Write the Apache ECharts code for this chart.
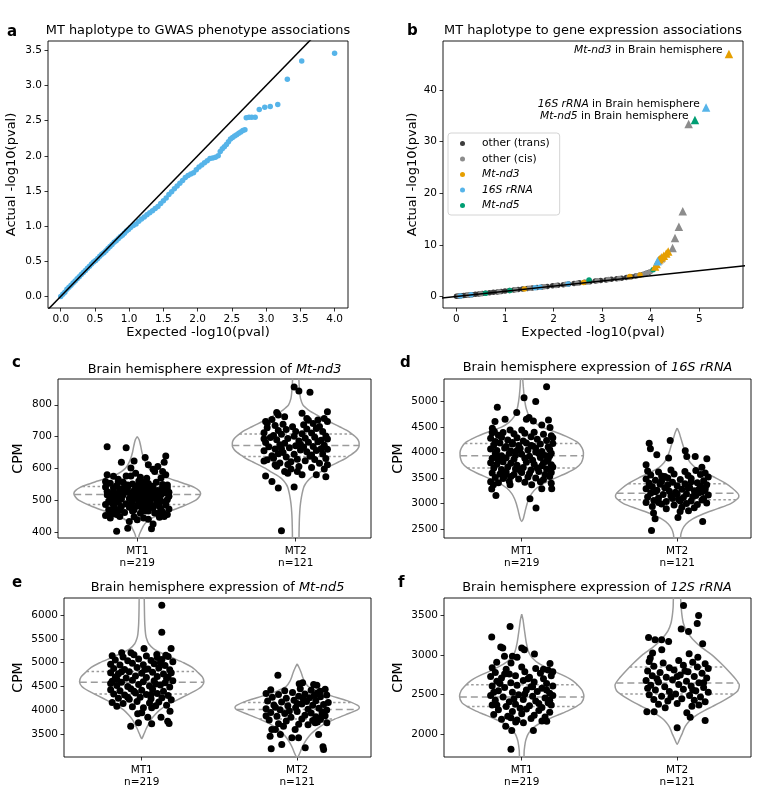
<!DOCTYPE html>
<html><head><meta charset="utf-8">
<script src="https://cdn.jsdelivr.net/npm/echarts@6/dist/echarts.min.js"></script>
<style>html,body{margin:0;padding:0;background:#fff}#chart{width:760px;height:790px}</style>
</head><body><div id="chart"></div>
<script>
// ---------------- DATA ----------------
// Panel a: QQ points [expected, actual]
const aPoints = [[0,0],[0.03,0.03],[0.06,0.06],[0.09,0.1],[0.12,0.13],[0.15,0.16],[0.18,0.19],[0.21,0.22],[0.24,0.25],[0.27,0.28],[0.3,0.31],[0.33,0.34],[0.36,0.37],[0.39,0.4],[0.42,0.43],[0.45,0.46],[0.48,0.49],[0.51,0.51],[0.54,0.54],[0.57,0.57],[0.6,0.6],[0.63,0.62],[0.66,0.65],[0.69,0.68],[0.72,0.71],[0.75,0.74],[0.78,0.77],[0.81,0.79],[0.84,0.82],[0.87,0.85],[0.9,0.87],[0.93,0.9],[0.96,0.93],[0.99,0.95],[1.02,0.98],[1.06,1.01],[1.1,1.03],[1.14,1.07],[1.18,1.1],[1.22,1.13],[1.26,1.16],[1.3,1.19],[1.34,1.22],[1.38,1.25],[1.42,1.28],[1.46,1.32],[1.5,1.36],[1.54,1.4],[1.58,1.45],[1.62,1.49],[1.66,1.53],[1.7,1.57],[1.74,1.61],[1.78,1.65],[1.82,1.69],[1.86,1.72],[1.9,1.74],[1.94,1.76],[1.98,1.8],[2.02,1.84],[2.06,1.87],[2.1,1.9],[2.14,1.93],[2.18,1.96],[2.22,1.97],[2.26,1.98],[2.3,2.0],[2.33,2.06],[2.36,2.1],[2.39,2.13],[2.42,2.16],[2.45,2.2],[2.48,2.24],[2.51,2.26],[2.54,2.28],[2.57,2.3],[2.6,2.32],[2.63,2.34],[2.66,2.36],[2.69,2.37],[2.71,2.54],[2.75,2.55],[2.79,2.55],[2.84,2.55],[2.9,2.66],[2.98,2.69],[3.06,2.7],[3.17,2.73],[3.31,3.09],[3.52,3.35],[4.0,3.46]];
const refSpan = [-1, 7];

// Panel b: QQ points per group [expected, actual]
const bTrans = [[0,0.01],[0.03,0.03],[0.06,0.07],[0.1,0.11],[0.15,0.15],[0.2,0.21],[0.26,0.27],[0.32,0.34],[0.39,0.4],[0.46,0.48],[0.53,0.55],[0.6,0.63],[0.68,0.7],[0.76,0.79],[0.84,0.87],[0.92,0.96],[1.0,1.04],[1.09,1.13],[1.18,1.22],[1.27,1.32],[1.36,1.41],[1.46,1.51],[1.56,1.62],[1.66,1.72],[1.76,1.82],[1.87,1.93],[1.98,2.05],[2.09,2.16],[2.2,2.28],[2.31,2.39],[2.42,2.51],[2.53,2.62],[2.64,2.73],[2.75,2.85],[2.86,2.96],[2.97,3.07],[3.08,3.19],[3.19,3.31],[3.3,3.42],[3.4,3.54],[3.5,3.66],[3.6,3.79],[3.69,3.93],[3.77,4.08],[3.84,4.24],[3.9,4.42],[3.96,4.62]];
const bCis = [[0.05,0.06],[0.24,0.25],[0.5,0.52],[0.88,0.91],[1.22,1.27],[1.5,1.56],[1.81,1.88],[2.05,2.13],[2.25,2.33],[2.48,2.57],[2.7,2.8],[2.9,3.01],[3.13,3.25],[3.35,3.48],[3.55,3.73],[3.72,3.99],[3.86,4.3],[3.92,4.55],[3.99,4.8]];
const bCisTri = [[4.16,7.0],[4.21,7.4],[4.45,9.4],[4.5,11.3],[4.58,13.5],[4.66,16.5],[4.78,33.4]];
const bNd3 = [[1.4,1.45],[2.62,2.71],[3.57,3.85],[3.78,4.15]];
const bNd3Tri = [[4.09,5.8],[4.12,6.3],[4.18,7.2],[4.23,7.6],[4.27,7.9],[4.32,8.3],[4.36,8.7],[5.61,47.0]];
const b16S = [[0.08,0.09],[0.3,0.32],[1.62,1.68],[1.72,1.79],[2.3,2.38]];
const b16STri = [[4.14,6.8],[5.14,36.6]];
const bNd5 = [[0.6,0.62],[1.1,1.15],[2.73,3.2],[4.05,5.17]];
const bNd5Tri = [[4.91,34.2]];

// Tick labels
const aXTicks = [0,0.5,1,1.5,2,2.5,3,3.5,4];
const aYTicks = [0,0.5,1,1.5,2,2.5,3,3.5];
const bXTicks = [0,1,2,3,4,5];
const bYTicks = [0,10,20,30,40];
const cYTicks = [400,500,600,700,800];
const dYTicks = [2500,3000,3500,4000,4500,5000];
const eYTicks = [3500,4000,4500,5000,5500,6000];
const fYTicks = [2000,2500,3000,3500];
const groups = ['MT1\nn=219','MT2\nn=121'];

// Violin density profiles [CPM, half width]
const vioC1 = [[700,0],[690,0.012],[670,0.022],[650,0.03],[630,0.042],[610,0.06],[600,0.075],[590,0.1],[580,0.135],[570,0.19],[560,0.25],[550,0.31],[540,0.36],[530,0.39],[520,0.4],[510,0.39],[500,0.37],[490,0.33],[480,0.285],[470,0.23],[460,0.17],[450,0.12],[440,0.08],[430,0.055],[420,0.04],[410,0.03],[400,0.02],[390,0.012],[372,0.004]];
const vioC2 = [[900,0.02],[880,0.02],[860,0.022],[840,0.025],[820,0.03],[800,0.045],[790,0.065],[780,0.09],[770,0.125],[760,0.16],[750,0.2],[740,0.24],[730,0.28],[720,0.32],[710,0.35],[700,0.375],[690,0.393],[680,0.4],[670,0.4],[660,0.39],[650,0.37],[640,0.34],[630,0.31],[620,0.27],[610,0.23],[600,0.19],[590,0.16],[580,0.125],[570,0.095],[560,0.075],[550,0.06],[540,0.05],[520,0.04],[500,0.033],[480,0.028],[460,0.025],[440,0.023],[420,0.022],[400,0.021],[370,0.02]];
const vioD1 = [[5500,0.005],[5300,0.01],[5100,0.016],[4900,0.026],[4800,0.036],[4700,0.05],[4600,0.08],[4500,0.13],[4400,0.22],[4300,0.3],[4200,0.36],[4100,0.387],[4000,0.397],[3900,0.395],[3800,0.383],[3700,0.35],[3600,0.29],[3500,0.215],[3400,0.145],[3300,0.095],[3200,0.065],[3100,0.047],[3000,0.035],[2900,0.026],[2800,0.018],[2700,0.01],[2650,0]];
const vioD2 = [[4480,0],[4400,0.012],[4300,0.022],[4200,0.032],[4100,0.042],[4000,0.052],[3900,0.065],[3800,0.085],[3700,0.12],[3600,0.18],[3500,0.25],[3400,0.31],[3300,0.355],[3200,0.39],[3150,0.397],[3100,0.39],[3000,0.345],[2900,0.26],[2800,0.17],[2700,0.1],[2600,0.057],[2500,0.035],[2400,0.024],[2300,0.018]];
const vioE1 = [[6400,0.016],[6200,0.017],[6000,0.018],[5800,0.02],[5600,0.025],[5500,0.032],[5400,0.045],[5300,0.075],[5200,0.13],[5100,0.2],[5000,0.27],[4900,0.325],[4800,0.36],[4700,0.39],[4600,0.4],[4500,0.385],[4400,0.34],[4300,0.28],[4200,0.22],[4100,0.16],[4000,0.115],[3900,0.085],[3800,0.06],[3700,0.043],[3600,0.028],[3500,0.015],[3400,0]];
const vioE2 = [[4977,0],[4900,0.012],[4800,0.025],[4700,0.035],[4600,0.048],[4500,0.07],[4400,0.13],[4300,0.22],[4200,0.32],[4100,0.39],[4050,0.4],[4000,0.385],[3900,0.31],[3800,0.235],[3700,0.17],[3600,0.125],[3500,0.09],[3400,0.065],[3300,0.045],[3200,0.03],[3100,0.018],[3010,0.005],[2990,0]];
const vioF1 = [[3516,0],[3450,0.008],[3350,0.015],[3250,0.022],[3150,0.03],[3050,0.042],[3000,0.055],[2950,0.075],[2900,0.105],[2850,0.15],[2800,0.2],[2750,0.26],[2700,0.31],[2650,0.345],[2600,0.37],[2550,0.39],[2480,0.4],[2400,0.385],[2350,0.35],[2300,0.3],[2250,0.24],[2200,0.18],[2150,0.125],[2100,0.085],[2050,0.058],[2000,0.04],[1950,0.03],[1900,0.023],[1800,0.016],[1690,0.012]];
const vioF2 = [[3750,0.021],[3600,0.026],[3500,0.031],[3400,0.04],[3300,0.06],[3200,0.1],[3100,0.155],[3000,0.225],[2900,0.28],[2800,0.33],[2700,0.375],[2620,0.4],[2550,0.39],[2500,0.36],[2450,0.32],[2400,0.275],[2350,0.225],[2300,0.175],[2250,0.13],[2200,0.095],[2150,0.07],[2100,0.052],[2050,0.04],[2000,0.03],[1950,0.018],[1875,0]];

// Quartiles [q1, median, q3]
const quartC = [[486,518,543],[637,672,708]];
const quartD = [[3700,3937,4180],[3074,3200,3390]];
const quartE = [[4340,4590,4815],[3810,4013,4160]];
const quartF = [[2352,2470,2625],[2510,2648,2850]];

// Strip points [jitter, CPM]
const ptsC1 = [[-0.19,668],[-0.07,665],[-0.1,619],[-0.02,623],[0.05,634],[0.18,639],[0.17,619],[0.07,611],[0.11,590],[0.16,590],[0.18,580],[-0.19,580],[-0.07,576],[-0.04,576],[0.06,569],[0.1,597],[0.13,606],[-0.04,601],[-0.01,585],[-0.15,575],[0.05,558],[0.15,570],[-0.12,566],[0.02,572],[-0.17,553],[-0.2,541],[-0.15,529],[-0.19,517],[-0.16,506],[-0.18,497],[-0.2,486],[-0.14,474],[-0.17,463],[-0.13,545],[-0.11,536],[-0.14,520],[-0.1,511],[-0.12,493],[-0.15,484],[-0.11,469],[-0.09,557],[-0.06,548],[-0.08,532],[-0.05,524],[-0.1,503],[-0.07,489],[-0.05,478],[-0.08,461],[-0.03,551],[-0.01,539],[-0.04,516],[-0.02,507],[-0.03,495],[0.0,482],[-0.02,470],[0.01,560],[0.03,544],[0.02,528],[0.05,513],[0.01,500],[0.04,489],[0.03,473],[0.02,459],[0.07,552],[0.06,537],[0.09,521],[0.08,509],[0.06,494],[0.09,481],[0.07,466],[0.12,556],[0.1,542],[0.13,530],[0.11,515],[0.14,501],[0.12,488],[0.1,476],[0.13,458],[0.16,549],[0.19,538],[0.17,523],[0.2,512],[0.15,497],[0.18,485],[0.2,472],[0.16,463],[0.19,548],[-0.19,527],[-0.13,512],[-0.06,541],[0.0,525],[0.05,531],[0.11,505],[0.17,531],[-0.16,492],[-0.09,516],[-0.01,512],[0.08,497],[0.15,517],[-0.18,470],[-0.12,558],[-0.04,485],[0.04,552],[0.14,480],[0.19,502],[-0.07,526],[0.02,519],[0.1,534],[-0.14,501],[-0.03,466],[0.06,478],[0.18,493],[-0.2,559],[-0.1,480],[0.0,545],[0.12,520],[-0.05,505],[0.08,526],[0.16,540],[-0.17,519],[0.03,507],[-0.11,527],[0.13,492],[0.2,525],[-0.08,549],[0.01,491],[0.09,544],[-0.15,539],[0.05,466],[-0.02,530],[0.15,471],[-0.13,455],[0.11,460],[-0.13,402],[-0.06,412],[0.09,410],[0.1,425],[-0.17,444],[-0.05,433],[0.04,444],[0.14,446],[0.17,449],[-0.11,449],[-0.2,452],[0.19,455],[-0.02,448],[0.07,440],[-0.15,458],[0.15,453],[0.0,438]];
const ptsC2 = [[-0.01,856],[0.02,843],[0.09,839],[-0.09,404],[-0.19,576],[-0.15,559],[-0.11,538],[-0.01,541],[-0.2,623],[0.2,778],[0.18,757],[0.2,747],[-0.12,776],[-0.11,768],[-0.19,747],[-0.18,742],[-0.07,762],[0.04,773],[0.07,757],[0.13,580],[0.19,574],[0.2,611],[0.01,590],[0.04,580],[-0.07,590],[-0.05,585],[-0.13,611],[-0.18,728],[-0.2,712],[-0.16,697],[-0.19,681],[-0.17,668],[-0.2,655],[-0.15,640],[-0.18,627],[-0.13,735],[-0.11,719],[-0.14,703],[-0.12,690],[-0.1,674],[-0.13,661],[-0.11,646],[-0.14,632],[-0.1,617],[-0.08,739],[-0.06,722],[-0.09,707],[-0.05,694],[-0.07,679],[-0.04,665],[-0.08,650],[-0.06,636],[-0.03,621],[-0.02,731],[0.0,716],[-0.01,701],[0.02,686],[0.0,671],[0.03,658],[-0.01,644],[0.01,629],[0.02,606],[0.05,737],[0.07,724],[0.04,709],[0.06,695],[0.08,682],[0.05,667],[0.07,652],[0.09,638],[0.06,624],[0.11,741],[0.13,725],[0.1,711],[0.12,698],[0.14,684],[0.11,669],[0.13,656],[0.1,642],[0.12,628],[0.15,732],[0.17,716],[0.19,702],[0.16,688],[0.18,673],[0.2,660],[0.17,645],[0.19,631],[0.15,616],[-0.15,754],[0.08,751],[-0.03,598],[0.1,603],[0.18,598],[0.2,692],[-0.2,693],[0.03,676],[-0.09,662],[0.16,662],[-0.05,612],[0.14,752],[-0.12,607]];
const ptsD1 = [[0.16,5295],[0.015,5079],[0.09,5001],[-0.157,4891],[-0.032,4785],[0.047,4687],[0.03,4656],[-0.107,4656],[-0.172,4609],[0.075,4623],[0.172,4642],[0.129,4544],[0.182,4491],[-0.189,4480],[-0.176,4413],[-0.075,4446],[0.0,4446],[-0.166,3159],[-0.193,3284],[0.092,2912],[0.053,3094],[0.193,3290],[0.129,3290],[-0.182,3368],[-0.075,3368],[0.064,3368],[-0.19,4390],[-0.15,4340],[-0.12,4395],[-0.05,4370],[0.02,4380],[0.08,4400],[0.14,4360],[0.19,4330],[-0.2,4280],[-0.17,4220],[-0.13,4300],[-0.09,4250],[-0.03,4290],[0.01,4230],[0.06,4310],[0.1,4260],[0.16,4240],[0.2,4290],[-0.18,4150],[-0.14,4190],[-0.1,4120],[-0.06,4170],[-0.02,4140],[0.03,4190],[0.07,4130],[0.12,4170],[0.17,4110],[0.2,4180],[-0.2,4070],[-0.16,4040],[-0.11,4090],[-0.07,4030],[-0.01,4080],[0.04,4050],[0.09,4090],[0.13,4020],[0.18,4060],[-0.17,3980],[-0.13,3940],[-0.08,3990],[-0.04,3950],[0.0,3970],[0.05,3930],[0.11,3985],[0.15,3945],[0.19,3990],[-0.19,3890],[-0.15,3860],[-0.1,3900],[-0.05,3870],[0.02,3890],[0.07,3850],[0.12,3905],[0.17,3870],[-0.2,3800],[-0.16,3770],[-0.12,3820],[-0.07,3790],[-0.03,3750],[0.03,3810],[0.08,3770],[0.14,3800],[0.19,3760],[-0.18,3700],[-0.13,3670],[-0.09,3720],[-0.04,3680],[0.01,3710],[0.06,3660],[0.1,3700],[0.16,3680],[0.2,3720],[-0.19,3600],[-0.14,3580],[-0.1,3620],[-0.05,3570],[0.0,3610],[0.05,3590],[0.11,3630],[0.15,3570],[0.19,3610],[-0.17,3510],[-0.12,3490],[-0.07,3530],[-0.02,3480],[0.04,3520],[0.09,3500],[0.14,3470],[0.18,3530],[-0.2,3430],[-0.15,3410],[-0.08,3440],[0.02,3420],[0.12,3430],[0.19,3400],[-0.06,4200],[0.09,4010],[-0.16,3930],[0.16,3830],[-0.01,3650],[0.13,3740],[-0.11,3540],[0.06,4140],[-0.03,4040],[0.18,3940]];
const ptsD2 = [[-0.165,2473],[0.164,2649],[0.005,2727],[-0.142,2702],[0.019,2845],[0.073,2859],[-0.152,2814],[-0.18,4186],[-0.172,4074],[-0.045,4237],[0.052,4035],[0.062,3923],[0.116,3923],[0.191,3878],[-0.131,3956],[-0.2,3760],[-0.055,3892],[0.159,3715],[-0.19,3640],[-0.12,3620],[-0.04,3660],[0.05,3630],[0.12,3650],[0.18,3600],[-0.17,3560],[-0.1,3540],[-0.02,3580],[0.07,3550],[0.15,3570],[0.2,3520],[-0.2,3480],[-0.14,3460],[-0.06,3500],[0.02,3470],[0.09,3490],[0.17,3450],[-0.18,3400],[-0.11,3380],[-0.03,3420],[0.05,3390],[0.13,3410],[0.19,3370],[-0.16,3330],[-0.08,3310],[0.0,3350],[0.08,3320],[0.15,3340],[-0.2,3290],[-0.13,3260],[-0.05,3240],[0.03,3280],[0.11,3250],[0.18,3270],[-0.17,3200],[-0.09,3180],[-0.01,3220],[0.06,3190],[0.14,3210],[0.2,3170],[-0.19,3130],[-0.12,3110],[-0.04,3150],[0.04,3120],[0.1,3140],[0.17,3100],[-0.15,3060],[-0.07,3040],[0.01,3080],[0.09,3050],[0.16,3070],[-0.2,3020],[-0.1,2990],[-0.02,2970],[0.06,3000],[0.13,2980],[0.19,3010],[-0.16,2940],[0.03,2930],[0.11,2920],[-0.07,2900],[-0.14,3230],[0.07,3300],[-0.06,3370],[0.12,3160],[-0.1,3440],[0.02,3050],[0.16,3230],[-0.18,3350],[0.09,3430],[-0.03,3100],[0.18,3310],[-0.12,3020],[0.0,3190],[0.14,3280],[-0.08,3530]];
const ptsE1 = [[0.129,6213],[0.129,5644],[0.189,5300],[0.015,5300],[0.097,5173],[0.155,5158],[-0.129,5209],[-0.069,5209],[-0.071,3660],[-0.021,3732],[0.064,3711],[0.176,3717],[0.167,3766],[0.124,3851],[0.182,3977],[-0.026,3922],[0.0,3943],[0.011,4049],[0.064,4049],[0.039,3851],[-0.19,5150],[-0.12,5120],[-0.05,5170],[0.03,5140],[0.1,5110],[0.17,5130],[-0.17,5060],[-0.09,5040],[-0.02,5080],[0.06,5050],[0.13,5070],[0.2,5020],[-0.2,4970],[-0.14,4950],[-0.06,4990],[0.01,4960],[0.08,4980],[0.15,4940],[-0.18,4880],[-0.11,4860],[-0.03,4900],[0.04,4870],[0.11,4890],[0.18,4850],[-0.2,4790],[-0.15,4770],[-0.08,4810],[0.0,4780],[0.07,4800],[0.14,4760],[0.19,4790],[-0.17,4700],[-0.1,4680],[-0.04,4720],[0.03,4690],[0.1,4710],[0.16,4670],[-0.19,4610],[-0.13,4590],[-0.06,4630],[0.01,4600],[0.08,4620],[0.15,4580],[0.2,4620],[-0.16,4520],[-0.09,4500],[-0.02,4540],[0.05,4510],[0.12,4530],[0.18,4490],[-0.2,4430],[-0.14,4410],[-0.07,4450],[0.0,4420],[0.07,4440],[0.14,4400],[-0.18,4340],[-0.11,4320],[-0.04,4360],[0.03,4330],[0.1,4350],[0.17,4310],[-0.15,4250],[-0.08,4230],[-0.01,4270],[0.06,4240],[0.13,4260],[0.19,4220],[-0.19,4160],[-0.12,4140],[-0.03,4180],[0.05,4150],[0.11,4170],[-0.16,4080],[-0.06,4070],[0.09,4090],[0.16,4100],[-0.13,4810],[0.09,4550],[-0.05,4400],[0.17,4700],[-0.2,4560],[0.02,4860],[-0.09,4270],[0.12,5000],[-0.16,4650],[0.06,4330]];
const ptsE2 = [[-0.124,4737],[0.013,4555],[0.035,4576],[0.106,4540],[0.127,4525],[0.148,4399],[-0.167,3183],[-0.099,3274],[0.052,3205],[0.166,3226],[0.17,3169],[-0.174,3449],[-0.108,3485],[-0.034,3416],[0.009,3416],[0.138,3485],[-0.163,3591],[-0.14,3591],[-0.088,3660],[-0.013,3591],[0.191,3732],[0.116,3732],[-0.17,4430],[-0.08,4410],[0.02,4450],[0.09,4420],[0.18,4440],[-0.2,4350],[-0.12,4330],[-0.03,4370],[0.05,4340],[0.13,4360],[0.19,4320],[-0.16,4270],[-0.07,4250],[0.01,4290],[0.08,4260],[0.15,4280],[-0.19,4190],[-0.1,4170],[-0.02,4210],[0.06,4180],[0.12,4200],[0.2,4160],[-0.15,4110],[-0.06,4090],[0.03,4130],[0.1,4100],[0.17,4120],[-0.2,4030],[-0.11,4010],[-0.01,4050],[0.07,4020],[0.14,4040],[0.19,4000],[-0.17,3950],[-0.08,3930],[0.0,3970],[0.09,3940],[0.16,3960],[-0.13,3870],[-0.04,3850],[0.05,3890],[0.12,3860],[0.18,3880],[-0.18,3790],[-0.07,3770],[0.03,3810],[0.1,3780],[0.15,3800],[-0.12,3710],[0.01,3700],[0.07,3690],[-0.14,4060],[0.04,4230],[0.16,3900],[-0.05,3980],[0.11,4310],[-0.2,3880],[0.0,4140],[0.13,3750]];
const ptsF1 = [[-0.075,3360],[-0.193,3227],[-0.122,3089],[-0.135,3100],[0.0,3089],[0.017,3068],[-0.111,2984],[-0.06,2984],[-0.03,2971],[0.082,3014],[-0.161,2908],[-0.069,2900],[0.182,2892],[-0.069,1812],[-0.064,2050],[-0.103,2104],[0.075,2050],[0.161,2167],[0.011,2147],[-0.039,2155],[-0.19,2840],[-0.1,2820],[0.0,2850],[0.09,2830],[0.17,2810],[-0.17,2780],[-0.08,2760],[0.02,2790],[0.12,2770],[0.2,2790],[-0.2,2730],[-0.13,2710],[-0.04,2740],[0.05,2720],[0.14,2700],[0.19,2740],[-0.16,2670],[-0.07,2650],[0.01,2680],[0.08,2660],[0.16,2640],[-0.19,2610],[-0.11,2590],[-0.03,2620],[0.06,2600],[0.13,2580],[0.2,2610],[-0.15,2550],[-0.06,2530],[0.03,2560],[0.1,2540],[0.18,2520],[-0.2,2490],[-0.12,2470],[-0.02,2500],[0.07,2480],[0.15,2460],[0.2,2490],[-0.17,2430],[-0.08,2410],[0.01,2440],[0.09,2420],[0.17,2400],[-0.19,2370],[-0.1,2350],[-0.04,2380],[0.05,2360],[0.13,2340],[0.19,2370],[-0.15,2310],[-0.06,2290],[0.03,2320],[0.11,2300],[0.18,2280],[-0.18,2250],[-0.09,2230],[0.0,2260],[0.08,2240],[0.15,2220],[-0.13,2190],[-0.03,2180],[0.06,2200],[0.13,2170],[-0.14,2640],[0.04,2700],[-0.05,2450],[0.16,2560],[-0.18,2530],[0.11,2390],[-0.01,2330],[0.07,2600],[-0.11,2760],[0.18,2430],[-0.07,2210],[0.14,2820],[-0.16,2370],[0.02,2510]];
const ptsF2 = [[0.041,3624],[0.138,3498],[0.129,3398],[0.026,3327],[0.073,3298],[0.164,3143],[-0.184,3222],[-0.142,3193],[-0.1,3193],[-0.055,3172],[-0.099,3068],[0.077,3017],[0.133,2971],[-0.158,3026],[-0.173,2963],[-0.195,2285],[-0.148,2285],[0.18,2176],[0.0,2084],[0.084,2217],[0.062,2272],[0.095,2355],[-0.077,2335],[-0.18,2920],[-0.09,2900],[0.01,2930],[0.1,2910],[0.18,2890],[-0.15,2860],[-0.05,2840],[0.04,2870],[0.13,2850],[0.2,2830],[-0.19,2800],[-0.11,2780],[-0.02,2810],[0.07,2790],[0.16,2770],[-0.16,2740],[-0.07,2720],[0.02,2750],[0.11,2730],[0.19,2710],[-0.2,2680],[-0.12,2660],[-0.03,2690],[0.06,2670],[0.14,2650],[-0.17,2620],[-0.08,2600],[0.01,2630],[0.09,2610],[0.17,2590],[-0.14,2560],[-0.05,2540],[0.04,2570],[0.12,2550],[0.2,2530],[-0.18,2500],[-0.1,2480],[-0.01,2510],[0.08,2490],[0.15,2470],[-0.15,2440],[-0.06,2420],[0.03,2450],[0.11,2430],[0.18,2410],[-0.12,2380],[0.0,2390],[0.14,2370],[-0.13,2700],[0.05,2800],[0.17,2650],[-0.04,2470],[0.1,2560],[-0.19,2580],[0.0,2730]];

// ---------------- CHART ----------------
const FONT = '"DejaVu Sans", Verdana, sans-serif';
const C = {trans:'#3d3d3d', cis:'#8c8c8c', nd3:'#E69F00', s16:'#56B4E9', nd5:'#009E73'};
const italicNames = ['Mt-nd3','16S rRNA','Mt-nd5'];

const grids = [
  {left:48, top:41, width:300, height:267},
  {left:443, top:41, width:300, height:267},
  {left:58, top:379, width:313, height:159},
  {left:444, top:379, width:307, height:159},
  {left:64, top:598, width:307, height:159},
  {left:444, top:598, width:307, height:159}
].map(g => Object.assign({show:true, borderColor:'#000', borderWidth:0.9, backgroundColor:'transparent', containLabel:false}, g));

function axis(gi, min, max, ticks, fmt, extra) {
  return Object.assign({
    type:'value', gridIndex:gi, min, max, scale:true,
    axisLine:{show:false, onZero:false}, splitLine:{show:false},
    axisTick:{show:true, inside:false, length:3.5, lineStyle:{color:'#000', width:0.8}, customValues:ticks},
    axisLabel:{show:true, customValues:ticks, formatter:fmt, color:'#000', fontSize:10.5, fontFamily:FONT, margin:6},
    nameTextStyle:{color:'#000', fontSize:13, fontFamily:FONT}
  }, extra || {});
}
const f1 = v => v.toFixed(1);
const fi = v => String(Math.round(v));
const fg = v => groups[Math.round(v)];

const xAxes = [
  axis(0, -0.186, 4.196, aXTicks, f1, {name:'Expected -log10(pval)', nameLocation:'middle', nameGap:12}),
  axis(1, -0.277, 5.9, bXTicks, fi, {name:'Expected -log10(pval)', nameLocation:'middle', nameGap:12}),
];
const yAxes = [
  axis(0, -0.165, 3.633, aYTicks, f1, {name:'Actual -log10(pval)', nameLocation:'middle', nameGap:30, nameRotate:90}),
  axis(1, -2.25, 49.5, bYTicks, fi, {name:'Actual -log10(pval)', nameLocation:'middle', nameGap:24, nameRotate:90}),
];
const vioRanges = [[381,881,cYTicks,33],[2324,5445,dYTicks,39],[3010,6367,eYTicks,39],[1715,3719,fYTicks,39]];
vioRanges.forEach((r, k) => {
  const gi = k + 2;
  const xa = axis(gi, -0.5, 1.475, [0,1], fg);
  xa.axisLabel.lineHeight = 12; xa.axisLabel.margin = 7;
  xAxes.push(xa);
  yAxes.push(axis(gi, r[0], r[1], r[2], fi, {name:'CPM', nameLocation:'middle', nameGap:r[3], nameRotate:90,
    nameTextStyle:{color:'#000', fontSize:14, fontFamily:FONT}}));
});

function hwAt(profile, v) {
  for (let i = 0; i < profile.length - 1; i++) {
    const [v1,w1] = profile[i], [v2,w2] = profile[i+1];
    if (v <= v1 && v >= v2) return w1 + (w2 - w1) * (v1 - v) / (v1 - v2);
  }
  return 0;
}
const series = [];
function addViolin(gi, center, profile, quart, pts) {
  const right = profile.map(([v,w]) => [center + w, v]);
  const left = profile.slice().reverse().map(([v,w]) => [center - w, v]);
  const poly = right.concat(left); poly.push(poly[0]);
  series.push({type:'line', xAxisIndex:gi, yAxisIndex:gi, data:poly, symbol:'none', smooth:0.25, clip:true, silent:true, z:1,
    lineStyle:{color:'#9b9b9b', width:1.5}});
  quart.forEach((q, qi) => {
    const w = hwAt(profile, q);
    series.push({type:'line', xAxisIndex:gi, yAxisIndex:gi, data:[[center - w, q],[center + w, q]], symbol:'none', silent:true, z:1,
      lineStyle:{color:'#9b9b9b', width:1.5, type: qi === 1 ? [7,4] : [2.5,2.5]}});
  });
  series.push({type:'scatter', xAxisIndex:gi, yAxisIndex:gi, data:pts.map(([j,v]) => [center + j, v]), symbol:'circle', symbolSize:7,
    itemStyle:{color:'#000', opacity:1}, silent:true, z:3});
}
addViolin(2, 0, vioC1, quartC[0], ptsC1); addViolin(2, 1, vioC2, quartC[1], ptsC2);
addViolin(3, 0, vioD1, quartD[0], ptsD1); addViolin(3, 1, vioD2, quartD[1], ptsD2);
addViolin(4, 0, vioE1, quartE[0], ptsE1); addViolin(4, 1, vioE2, quartE[1], ptsE2);
addViolin(5, 0, vioF1, quartF[0], ptsF1); addViolin(5, 1, vioF2, quartF[1], ptsF2);

// Panel a
series.push({type:'scatter', xAxisIndex:0, yAxisIndex:0, data:aPoints, symbolSize:5.5, itemStyle:{color:C.s16, opacity:1}, silent:true, z:2});
series.push({type:'line', xAxisIndex:0, yAxisIndex:0, data:refSpan.map(v => [v, v]), symbol:'none', clip:true, silent:true, z:3,
  lineStyle:{color:'#000', width:1.5}});

// Panel b
function labelTop(arr, gene) {
  let mi = 0; arr.forEach((p, i) => { if (p[1] > arr[mi][1]) mi = i; });
  return arr.map((p, i) => i === mi ? {value:p, label:{show:true, position:'left', distance:2, offset:[0,-3.5],
    formatter:'{i|' + gene + '} in Brain hemisphere', color:'#000', fontSize:10.7, fontFamily:FONT,
    rich:{i:{fontStyle:'italic', fontSize:10.7, fontFamily:FONT, color:'#000'}}}} : p);
}
const bS = (name, data, color, sym, size) => ({type:'scatter', name, xAxisIndex:1, yAxisIndex:1, data, symbol:sym, symbolSize:size,
  itemStyle:{color, opacity:1}, silent:true, z:2});
series.push(bS('other (trans)', bTrans, C.trans, 'circle', 5.5));
series.push(bS('other (cis)', bCis, C.cis, 'circle', 5.5));
series.push(bS('Mt-nd3', bNd3, C.nd3, 'circle', 5.5));
series.push(bS('16S rRNA', b16S, C.s16, 'circle', 5.5));
series.push(bS('Mt-nd5', bNd5, C.nd5, 'circle', 5.5));
series.push(bS('other (cis)', bCisTri, C.cis, 'triangle', 8.5));
series.push(bS('Mt-nd3', labelTop(bNd3Tri, 'Mt-nd3'), C.nd3, 'triangle', 8.5));
series.push(bS('16S rRNA', labelTop(b16STri, '16S rRNA'), C.s16, 'triangle', 8.5));
series.push(bS('Mt-nd5', labelTop(bNd5Tri, 'Mt-nd5'), C.nd5, 'triangle', 8.5));
series.push({type:'line', xAxisIndex:1, yAxisIndex:1, data:refSpan.map(v => [v, v]), symbol:'none', clip:true, silent:true, z:3,
  lineStyle:{color:'#000', width:1.5}});

// Texts
const txt = (x, y, text, size, bold, rich) => ({type:'text', x, y, silent:true, style:{text, fill:'#000', fontSize:size,
  fontFamily:FONT, fontWeight: bold ? 'bold' : 'normal', align: bold ? 'left' : 'center', verticalAlign:'middle',
  textAlign: bold ? 'left' : 'center', textVerticalAlign:'middle',
  rich: rich ? {i:{fontStyle:'italic', fontSize:size, fontFamily:FONT, fill:'#000'}} : undefined}});
const titleSize = 12.9;
const graphic = [
  txt(7, 31.7, 'a', 15, true), txt(407, 31.4, 'b', 15, true), txt(12, 363, 'c', 15, true),
  txt(400, 362.7, 'd', 15, true), txt(12, 582.7, 'e', 15, true), txt(398, 582.7, 'f', 15, true),
  txt(198, 30.5, 'MT haplotype to GWAS phenotype associations', titleSize),
  txt(593, 30.5, 'MT haplotype to gene expression associations', titleSize),
  txt(214.5, 369.5, 'Brain hemisphere expression of {i|Mt-nd3}', titleSize, false, true),
  txt(597.5, 368, 'Brain hemisphere expression of {i|16S rRNA}', titleSize, false, true),
  txt(217.5, 588, 'Brain hemisphere expression of {i|Mt-nd5}', titleSize, false, true),
  txt(597, 588, 'Brain hemisphere expression of {i|12S rRNA}', titleSize, false, true)
];

const chart = echarts.init(document.getElementById('chart'));
chart.setOption({
  animation:false,
  backgroundColor:'#fff',
  textStyle:{fontFamily:FONT},
  grid:grids, xAxis:xAxes, yAxis:yAxes, series, graphic,
  legend:{
    data:['other (trans)','other (cis)','Mt-nd3','16S rRNA','Mt-nd5'].map(n => ({name:n, icon:'circle'})),
    orient:'vertical', left:448, top:133, itemWidth:5, itemHeight:5, itemGap:2.5,
    padding:[4,10,3,12], borderColor:'#d4d4d4', borderWidth:1, borderRadius:3, backgroundColor:'rgba(255,255,255,0.85)',
    selectedMode:false,
    formatter: n => italicNames.includes(n) ? '{i|' + n + '}' : n,
    textStyle:{color:'#000', fontSize:10.7, fontFamily:FONT, lineHeight:13, padding:[0,0,0,12],
      rich:{i:{fontStyle:'italic', fontSize:10.7, fontFamily:FONT, color:'#000', lineHeight:13}}}
  }
});
</script></body></html>
